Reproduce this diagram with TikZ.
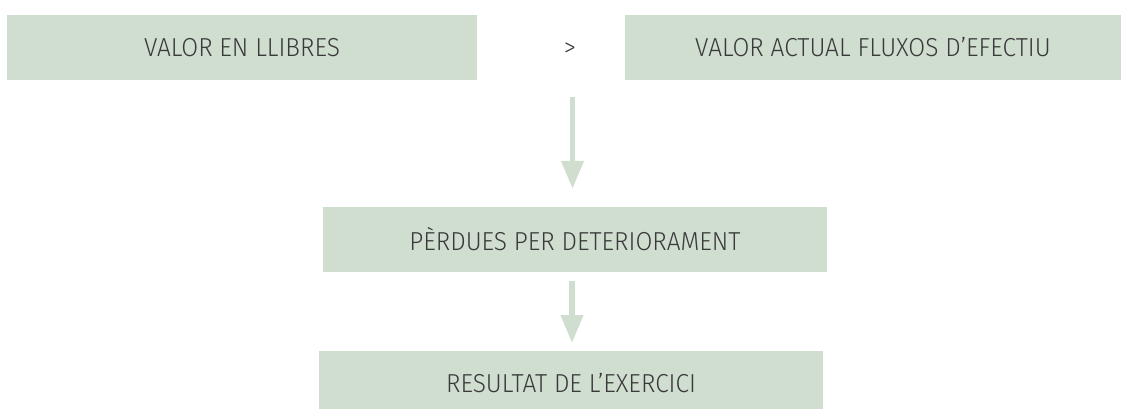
\documentclass[tikz,border=0pt]{standalone}
\usepackage{fontspec}
\setmainfont{Fira Sans Light}[FakeStretch=0.94]
\usetikzlibrary{arrows.meta}
\definecolor{boxgreen}{HTML}{D0DED0}
\definecolor{txtgray}{HTML}{3A3A3A}
\tikzset{
  greenbox/.style={fill=boxgreen, draw=none, inner sep=0pt, text=txtgray,
    font=\fontsize{26}{30}\selectfont, anchor=center},
  arr/.style={draw=boxgreen, line width=5.5pt,
    -{Triangle[length=28pt,width=21.6pt]}},
}
\begin{document}
\begin{tikzpicture}[x=1pt,y=1pt]
\useasboundingbox (0,0) rectangle (1121,408);
\begin{scope}
\clip (0,0) rectangle (1121,408);
\node[greenbox, minimum width=470pt, minimum height=65pt] (b1) at (242,360.5) {VALOR EN LLIBRES};
\node[greenbox, minimum width=496pt, minimum height=65pt] (b2) at (873,360.5) {VALOR ACTUAL FLUXOS D’EFECTIU};
\node[text=txtgray, font=\fontsize{26}{30}\selectfont, inner sep=0pt] (gt) at (570,358) {>};
\node[greenbox, minimum width=504pt, minimum height=65pt] (b3) at (575,168.5) {PÈRDUES PER DETERIORAMENT};
\node[greenbox, minimum width=504pt, minimum height=65pt] (b4) at (571,24.5) {RESULTAT DE L’EXERCICI};
\coordinate (a1s) at (572.5,311);
\draw[arr, shorten >=18pt] (a1s) -- (a1s |- b3.north);
\draw[arr, shorten <=9pt, shorten >=8pt] (572,136) -- (572,57);
\end{scope}
\end{tikzpicture}
\end{document}
